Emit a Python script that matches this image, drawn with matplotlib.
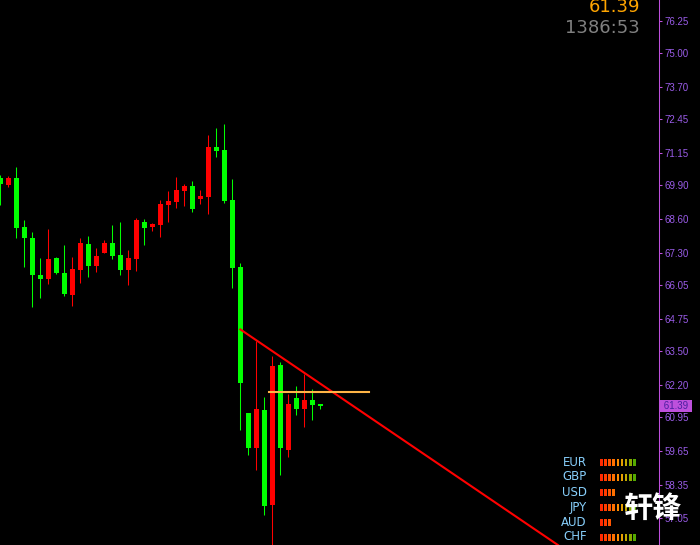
import matplotlib
matplotlib.use("Agg")
import matplotlib.pyplot as plt
import matplotlib.transforms as mtransforms

# candle data (one candle per bar, oldest first)
opens = [70.18, 69.91, 70.18, 68.29, 67.87, 66.44, 66.30, 67.09, 66.52, 65.68,
         66.64, 67.63, 66.80, 67.30, 67.67, 67.21, 66.64, 67.07, 68.48, 68.30,
         68.38, 69.15, 69.27, 69.68, 69.87, 69.37, 69.46, 71.38, 71.26, 69.33,
         66.75, 61.11, 59.78, 61.23, 57.58, 62.98, 59.70, 61.69, 61.28, 61.62, 61.46]
closes = [69.95, 70.18, 68.26, 67.88, 66.45, 66.30, 67.06, 66.52, 65.72, 66.67,
          67.67, 66.80, 67.17, 67.67, 67.18, 66.64, 67.09, 68.56, 68.26, 68.41,
          69.18, 69.29, 69.72, 69.87, 69.00, 69.49, 71.38, 71.23, 69.31, 66.72,
          62.28, 59.78, 61.27, 57.54, 62.94, 59.78, 61.46, 61.28, 61.62, 61.44, 61.39]
highs = [70.30, 70.26, 70.61, 68.56, 68.10, 67.09, 68.21, 67.13, 67.60, 67.13,
         67.87, 67.94, 67.48, 67.79, 68.37, 68.48, 67.40, 68.64, 68.60, 68.45,
         69.33, 69.68, 70.22, 69.95, 70.07, 69.72, 71.84, 72.11, 72.27, 70.14,
         66.90, 61.11, 63.90, 61.73, 63.33, 63.09, 61.86, 62.16, 62.63, 62.04, 61.46]
lows = [69.14, 69.83, 67.88, 66.76, 65.22, 65.56, 66.10, 66.48, 65.64, 65.25,
        66.14, 66.37, 66.57, 67.30, 67.07, 66.45, 66.06, 66.60, 67.61, 68.15,
        67.92, 68.50, 69.04, 69.11, 68.88, 69.19, 68.80, 71.00, 69.23, 65.95,
        60.47, 59.51, 58.93, 57.19, 55.90, 58.73, 59.43, 61.05, 60.59, 60.86, 61.28]

price_ticks = [76.25, 75.00, 73.70, 72.45, 71.15, 69.90, 68.60, 67.30, 66.05,
               64.75, 63.50, 62.20, 60.95, 59.65, 58.35, 57.05]
last_price = 61.39
timer_text = "1386:53"

# trend line (bar index, price) and horizontal level
trend_x = [30, 69.7]
trend_y = [64.34, 56.02]
level_x = [33.6, 46.1]
level_y = 61.94

# currency strength panel
currencies = ["EUR", "GBP", "USD", "JPY", "AUD", "CHF"]
strength = [9, 9, 4, 9, 3, 9]
seg_colors = ["#FF2A00", "#FF3C00", "#FF5500", "#FF7000", "#FF8C00",
              "#E6A000", "#C0A800", "#88AA00", "#55AA00"]

UP = "#FF0000"
DOWN = "#00FF00"
AXIS = "#BE50DC"
LABEL = "#9A5CE8"

fig = plt.figure(figsize=(7, 5.45), dpi=100, facecolor="black")
ax = fig.add_axes([0, 0, 659 / 700, 1], facecolor="black")

xs = list(range(len(opens)))
cols = [UP if c > o else DOWN for o, c in zip(opens, closes)]
ax.vlines(xs, lows, highs, colors=cols, linewidth=0.75, zorder=2)
bottoms = [min(o, c) for o, c in zip(opens, closes)]
heights = [max(abs(c - o), 0.04) for o, c in zip(opens, closes)]
ax.bar(xs, heights, bottom=bottoms, width=0.625, color=cols, linewidth=0, zorder=3)

ax.plot(trend_x, trend_y, color="#FF0000", linewidth=1.5, zorder=4)
ax.plot(level_x, [level_y, level_y], color="#FFB446", linewidth=1.5, zorder=4)

ax.set_xlim(-0.04, 82.34)
ax.set_ylim(56.02, 77.05)

for s in ["top", "left", "bottom"]:
    ax.spines[s].set_visible(False)
ax.spines["right"].set_color(AXIS)
ax.spines["right"].set_linewidth(0.75)
ax.set_xticks([])
ax.yaxis.tick_right()
ax.set_yticks(price_ticks)
ax.set_yticklabels([f"{p:.2f}" for p in price_ticks])
ax.tick_params(axis="y", direction="out", length=2.2, width=0.75, color=AXIS,
               labelcolor=LABEL, labelsize=7, pad=1.5)
for lab in ax.get_yticklabels():
    lab.set_fontfamily("Liberation Sans")

# current price box on the axis
trans = mtransforms.blended_transform_factory(ax.transAxes, ax.transData)
ax.text(1.003, last_price, f" {last_price:.2f} ", transform=trans, ha="left", va="center",
        fontsize=7, family="Liberation Sans", color="#4B1FA0", clip_on=False, zorder=6,
        bbox=dict(boxstyle="square,pad=0.1", fc=AXIS, ec="none"))

# top right readouts
fig.text(640 / 700, 1 - 11.7 / 545, f"{last_price:.2f}", ha="right", va="baseline",
         fontsize=13, color="#FFA500")
fig.text(640 / 700, 1 - 33.3 / 545, timer_text, ha="right", va="baseline",
         fontsize=13, color="#808080")

# strength panel, in pixel-like coordinates
lax = fig.add_axes([555 / 700, 0, 90 / 700, 90 / 545])
lax.set_xlim(555, 645)
lax.set_ylim(545, 455)
lax.axis("off")
for i, (cur, n) in enumerate(zip(currencies, strength)):
    row = 462 + 15 * i
    lax.text(587, row, cur, ha="right", va="center", fontsize=8.5,
             color="#87CEFA")
    lax.bar([601.3 + 4.15 * j for j in range(n)], 7, bottom=row - 3.5, width=2.6,
            color=seg_colors[:n], linewidth=0)

fig.text(653 / 700, 1 - 508 / 545, "轩锋", ha="center", va="center", fontsize=21,
         fontweight="bold", family=["Noto Sans CJK SC", "DejaVu Sans"], color="white",
         zorder=10)

fig.savefig("out.png", dpi=100, facecolor="black")
